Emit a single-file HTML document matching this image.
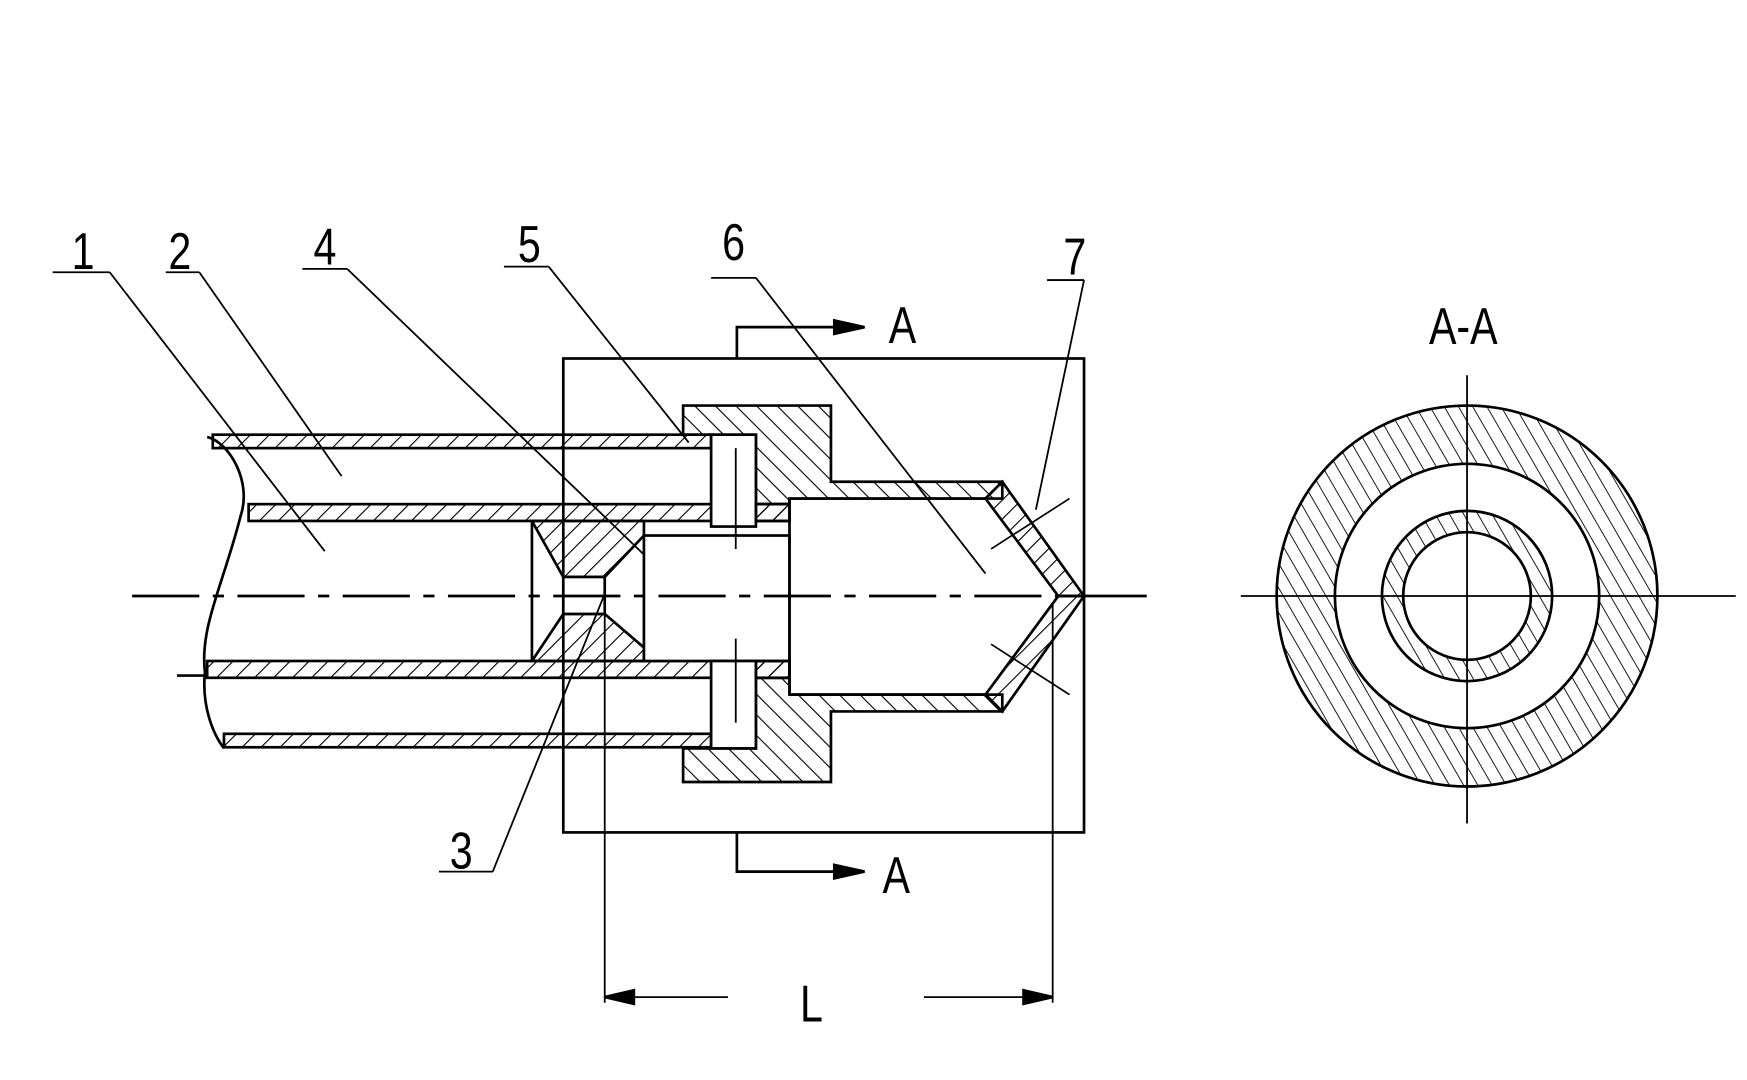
<!DOCTYPE html>
<html><head><meta charset="utf-8"><style>
html,body{margin:0;padding:0;background:#fff;}
svg{display:block;}
text{font-family:"Liberation Sans",sans-serif;fill:#000;}
</style></head><body>
<svg width="1747" height="1080" viewBox="0 0 1560 964" preserveAspectRatio="none" xmlns="http://www.w3.org/2000/svg">
<defs>
<pattern id="h1" width="12" height="12" patternUnits="userSpaceOnUse" patternTransform="rotate(45)">
<line x1="0" y1="0" x2="0" y2="12" stroke="#000" stroke-width="2"/></pattern>
<pattern id="h2" width="13" height="13" patternUnits="userSpaceOnUse" patternTransform="rotate(-45)">
<line x1="0" y1="0" x2="0" y2="13" stroke="#000" stroke-width="2"/></pattern>
<pattern id="h3" width="11" height="11" patternUnits="userSpaceOnUse" patternTransform="rotate(-30)">
<line x1="0" y1="0" x2="0" y2="11" stroke="#000" stroke-width="1.6"/></pattern>
</defs>
<g stroke="#000" stroke-width="2.4" fill="none">
<rect x="503" y="320" width="465" height="423"/>
<polyline points="658,320 658,292 745,292"/>
<polygon points="745,286 772,292 745,298" fill="#000"/>
<polyline points="658,743 658,778 745,778"/>
<polygon points="745,772 772,778 745,784" fill="#000"/>
<rect x="190" y="388" width="445" height="12" fill="url(#h1)"/>
<rect x="200" y="655" width="435" height="12" fill="url(#h1)"/>
<rect x="222" y="450" width="483" height="15" fill="url(#h1)"/>
<rect x="185" y="590" width="520" height="15" fill="url(#h1)"/>
<path d="M185,390 C205,395 225,430 215,460 C200,520 178,560 183,600 C180,630 190,655 200,668"/>
<polygon points="475,465 575,465 575,478 540,515 503,515 475,465" fill="url(#h1)"/>
<polygon points="475,590 575,590 575,578 540,548 503,548 475,590" fill="url(#h1)"/>
<line x1="475" y1="465" x2="475" y2="590"/>
<rect x="503" y="515" width="37" height="33" fill="#fff"/>
<rect x="575" y="478" width="130" height="112" fill="#fff"/>
<polygon points="610,362 742,362 742,430 895,430 895,445 705,445 705,450 675,450 675,388 635,388 610,388" fill="url(#h2)"/>
<polygon points="610,698 742,698 742,635 895,635 895,620 705,620 705,605 675,605 675,668 635,668 610,668" fill="url(#h2)"/>
<rect x="635" y="388" width="40" height="82" fill="#fff"/>
<rect x="635" y="590" width="40" height="78" fill="#fff"/>
<line x1="657" y1="400" x2="657" y2="490" stroke-width="1.6"/>
<line x1="657" y1="570" x2="657" y2="645" stroke-width="1.6"/>
<rect x="675" y="450" width="30" height="15" fill="url(#h1)"/>
<rect x="675" y="590" width="30" height="15" fill="url(#h1)"/>
<polygon points="895,430 968,532 945,532 880,445" fill="url(#h1)"/>
<polygon points="895,635 968,532 945,532 880,620" fill="url(#h1)"/>
<line x1="705" y1="445" x2="705" y2="620"/>
<line x1="880" y1="445" x2="705" y2="445"/>
<line x1="880" y1="620" x2="705" y2="620"/>
<line x1="885" y1="490" x2="955" y2="445" stroke-width="1.5"/>
<line x1="885" y1="575" x2="955" y2="620" stroke-width="1.5"/>
<line x1="118" y1="532" x2="1025" y2="532" stroke-dasharray="60,12,10,12"/>
<line x1="158" y1="603" x2="185" y2="603"/>
<line x1="540" y1="545" x2="540" y2="895" stroke-width="1.6"/>
<line x1="940" y1="540" x2="940" y2="895" stroke-width="1.6"/>
<line x1="540" y1="890" x2="650" y2="890" stroke-width="1.6"/>
<line x1="825" y1="890" x2="940" y2="890" stroke-width="1.6"/>
<polygon points="540,890 566,884 566,896" fill="#000"/>
<polygon points="940,890 914,884 914,896" fill="#000"/>
<g stroke-width="1.6">
<line x1="47" y1="243" x2="98" y2="243"/><line x1="98" y1="243" x2="290" y2="492"/>
<line x1="148" y1="243" x2="178" y2="243"/><line x1="178" y1="243" x2="305" y2="425"/>
<line x1="270" y1="240" x2="310" y2="240"/><line x1="310" y1="240" x2="575" y2="495"/>
<line x1="450" y1="238" x2="490" y2="238"/><line x1="490" y1="238" x2="615" y2="395"/>
<line x1="635" y1="248" x2="675" y2="248"/><line x1="675" y1="248" x2="880" y2="512"/>
<line x1="935" y1="250" x2="968" y2="250"/><line x1="968" y1="250" x2="925" y2="455"/>
<line x1="392" y1="778" x2="440" y2="778"/><line x1="440" y1="778" x2="540" y2="530"/>
</g>
<circle cx="1310" cy="532" r="170" fill="url(#h3)"/>
<circle cx="1310" cy="532" r="118" fill="#fff"/>
<circle cx="1310" cy="532" r="76" fill="url(#h3)"/>
<circle cx="1310" cy="532" r="57" fill="#fff"/>
<line x1="1108" y1="532" x2="1550" y2="532" stroke-width="1.6"/>
<line x1="1310" y1="335" x2="1310" y2="735" stroke-width="1.6"/>
</g>
<g font-size="46" transform="scale(0.8,1)">
<text x="80" y="240">1</text>
<text x="188" y="240">2</text>
<text x="350" y="236">4</text>
<text x="578" y="234">5</text>
<text x="806" y="232">6</text>
<text x="1187" y="245">7</text>
<text x="502" y="775">3</text>
<text x="992" y="306">A</text>
<text x="985" y="797">A</text>
<text x="893" y="912">L</text>
<text x="1595" y="307">A-A</text>
</g>
</svg>
</body></html>
